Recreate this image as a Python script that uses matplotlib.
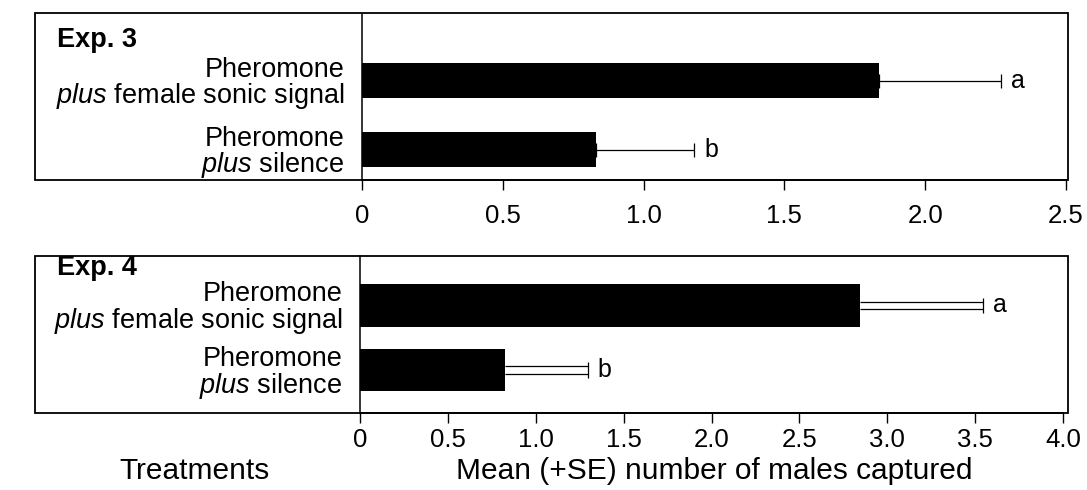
import numpy as np
import matplotlib.pyplot as plt
from matplotlib.patches import Rectangle

plt.rcParams['font.family'] = 'Liberation Sans'
plt.rcParams['mathtext.fontset'] = 'custom'
plt.rcParams['mathtext.rm'] = 'Liberation Sans'
plt.rcParams['mathtext.it'] = 'Liberation Sans:italic'
plt.rcParams['mathtext.bf'] = 'Liberation Sans:bold'

# treatments, top to bottom
treatments = ['Pheromone\n$\\it{plus}$ female sonic signal',
              'Pheromone\n$\\it{plus}$ silence']
letters = ['a', 'b']

exp3_mean = [1.835, 0.83]
exp3_se = [0.435, 0.35]
exp3_ticks = ['0', '0.5', '1.0', '1.5', '2.0', '2.5']

exp4_mean = [2.845, 0.825]
exp4_se = [0.70, 0.47]
exp4_ticks = ['0', '0.5', '1.0', '1.5', '2.0', '2.5', '3.0', '3.5', '4.0']

W, H = 1087, 490
fig = plt.figure(figsize=(W / 100, H / 100), dpi=100)


def frac(x0, y0, x1, y1):
    # pixel box measured from top-left -> figure fraction rect
    return [x0 / W, 1 - y1 / H, (x1 - x0) / W, (y1 - y0) / H]


def panel(rect, box, mean, se, ticks, ylim, bar_h, title, title_y, tick_pad, double=False):
    ax = fig.add_axes(rect)
    ypos = np.array([1, 0])
    ax.barh(ypos, mean, height=bar_h, color='black', zorder=2)
    ends = np.array(mean) + np.array(se)
    if double:
        d = 0.06
        ax.hlines(np.concatenate([ypos - d, ypos + d]), np.tile(mean, 2), np.tile(ends, 2),
                  color='black', lw=0.9)
        ax.vlines(ends, ypos - 2 * d, ypos + 2 * d, color='black', lw=0.9)
    else:
        ax.errorbar(mean, ypos, xerr=[np.zeros(2), se], fmt='none', ecolor='black',
                    elinewidth=0.9, capsize=5, capthick=0.9)
    for y, e, t in zip(ypos, ends, letters):
        ax.annotate(t, (e, y), xytext=(7, 0), textcoords='offset points',
                    va='center', ha='left', fontsize=18)
    ax.set_xlim(0, float(ticks[-1]))
    ax.set_ylim(*ylim)
    ax.set_xticks([float(t) for t in ticks], ticks)
    ax.set_yticks(ypos, treatments, linespacing=0.95, ha='right')
    ax.tick_params(axis='x', direction='out', length=7, width=1, labelsize=18.5, pad=tick_pad)
    ax.tick_params(axis='y', length=0, labelsize=19.5, pad=12.5)
    for s in ['top', 'right']:
        ax.spines[s].set_visible(False)
    ax.spines['left'].set_linewidth(1.1)
    ax.spines['bottom'].set_linewidth(1.3)
    fig.patches.append(Rectangle((box[0] / W, 1 - box[3] / H), (box[2] - box[0]) / W,
                                 (box[3] - box[1]) / H, transform=fig.transFigure,
                                 fill=False, lw=1.3, ec='black'))
    fig.text(57 / W, 1 - title_y / H, title, fontsize=19.5, fontweight='bold', va='center')
    return ax


ax3 = panel(frac(362, 14, 1066, 180), (35, 13, 1068, 180), exp3_mean, exp3_se, exp3_ticks,
            (-0.442, 1.964), 0.51, 'Exp. 3', 40, 10.5)
ax4 = panel(frac(360, 256, 1063, 413), (35, 256, 1068, 413), exp4_mean, exp4_se, exp4_ticks,
            (-0.667, 1.767), 0.66, 'Exp. 4', 268, 3.5, double=True)

fig.text(194 / W, 1 - 471 / H, 'Treatments', fontsize=21.5, ha='center', va='center')
fig.text(714 / W, 1 - 471 / H, 'Mean (+SE) number of males captured', fontsize=21.5,
         ha='center', va='center')

fig.savefig('out.png', dpi=100)
